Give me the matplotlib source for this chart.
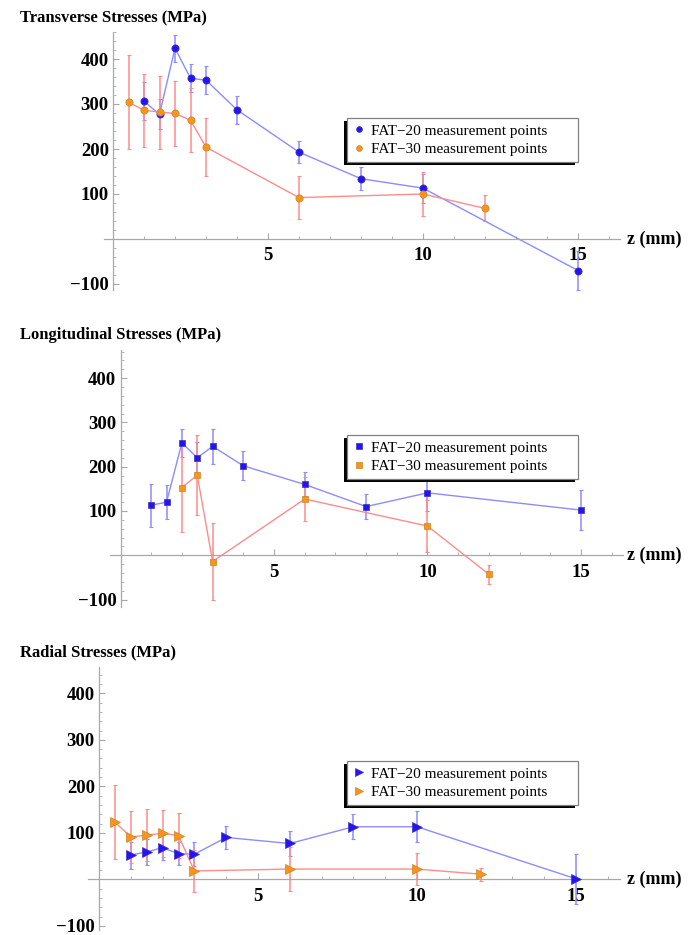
import matplotlib
matplotlib.use("Agg")
import matplotlib.pyplot as plt
from matplotlib.ticker import FixedLocator, MultipleLocator
from matplotlib.patches import Rectangle
import matplotlib.transforms as mtransforms

plt.rcParams['font.family'] = ['Liberation Serif', 'DejaVu Serif']

# ---------------- data ----------------
titles = ["Transverse Stresses (MPa)", "Longitudinal Stresses (MPa)", "Radial Stresses (MPa)"]
legend_labels = ["FAT\u221220 measurement points", "FAT\u221230 measurement points"]
x_label = "z (mm)"
x_ticks = [5, 10, 15]
y_ticks = [-100, 100, 200, 300, 400]

z20_t = [1, 1.5, 2, 2.5, 3, 4, 6, 8, 10, 15]
s20_t = [306, 277, 424, 357, 353, 287, 193, 134, 113, -70]
e20_t = [42, 33, 30, 31, 31, 31, 25, 26, 32, 43]
z30_t = [0.5, 1, 1.5, 2, 2.5, 3, 6, 10, 12]
s30_t = [304, 286, 282, 279, 264, 204, 92, 100, 68]
e30_t = [105, 81, 81, 72, 71, 65, 48, 48, 29]

z20_l = [1, 1.5, 2, 2.5, 3, 4, 6, 8, 10, 15]
s20_l = [113, 120, 254, 220, 246, 202, 160, 110, 141, 102]
e20_l = [48, 38, 32, 35, 40, 33, 27, 29, 40, 45]
z30_l = [2, 2.5, 3, 6, 10, 12]
s30_l = [153, 181, -14, 127, 66, -43]
e30_l = [100, 91, 86, 50, 58, 21]

z20_r = [1, 1.5, 2, 2.5, 3, 4, 6, 8, 10, 15]
s20_r = [52, 59, 68, 55, 54, 90, 77, 113, 113, 1]
e20_r = [29, 28, 27, 25, 26, 25, 27, 27, 33, 54]
z30_r = [0.5, 1, 1.5, 2, 2.5, 3, 6, 10, 12]
s30_r = [123, 91, 95, 99, 94, 18, 22, 22, 11]
e30_r = [80, 56, 56, 51, 48, 45, 48, 34, 14]

# ---------------- styling ----------------
W, H = 694, 935
DPI = 100
fig = plt.figure(figsize=(W / DPI, H / DPI), dpi=DPI)

blue_line = '#8c8cff'
red_line = '#ff8c8c'
blue_mk = '#2414f0'
orange_mk = '#f7941d'
axis_col = '#a8a8a8'

panels = [
    dict(x0=113, pxu=31.0, xlim=(-0.3, 16.35), y0=239.0, py=45.0, ylim=(-113, 460),
         title_y=18, leg_top=118, marker='o', ms=5.2,
         d=((z20_t, s20_t, e20_t), (z30_t, s30_t, e30_t)), title=titles[0]),
    dict(x0=120.5, pxu=30.7, xlim=(-0.33, 16.36), y0=555.3, py=44.3, ylim=(-117, 463),
         title_y=335, leg_top=435, marker='s', ms=5.0,
         d=((z20_l, s20_l, e20_l), (z30_l, s30_l, e30_l)), title=titles[1]),
    dict(x0=99.0, pxu=31.8, xlim=(-0.36, 16.37), y0=879.3, py=46.5, ylim=(-109, 457),
         title_y=652, leg_top=761, marker='>', ms=7.0,
         d=((z20_r, s20_r, e20_r), (z30_r, s30_r, e30_r)), title=titles[2]),
]

LEG_W, LEG_H = 231, 44
legends = []
for p in panels:
    left = p['x0'] + p['xlim'][0] * p['pxu']
    right = p['x0'] + p['xlim'][1] * p['pxu']
    top = p['y0'] - p['ylim'][1] * p['py'] / 100.0
    bottom = p['y0'] - p['ylim'][0] * p['py'] / 100.0
    ax = fig.add_axes([left / W, 1 - bottom / H, (right - left) / W, (bottom - top) / H])
    ax.set_xlim(*p['xlim'])
    ax.set_ylim(*p['ylim'])
    ax.patch.set_alpha(0)

    for s in ('top', 'right'):
        ax.spines[s].set_visible(False)
    ax.spines['left'].set_position(('data', 0))
    ax.spines['bottom'].set_position(('data', 0))
    for s in ('left', 'bottom'):
        ax.spines[s].set_color(axis_col)
        ax.spines[s].set_linewidth(0.9)

    ax.xaxis.set_major_locator(FixedLocator(x_ticks))
    ax.yaxis.set_major_locator(FixedLocator(y_ticks))
    ax.xaxis.set_minor_locator(MultipleLocator(1))
    ax.yaxis.set_minor_locator(MultipleLocator(20))
    ax.set_yticklabels(['\u2212100', '100', '200', '300', '400'])
    ax.set_xticklabels(['5', '10', '15'])
    ax.tick_params(which='major', direction='in', length=4, width=0.8, color=axis_col,
                   labelsize=13.5)
    ax.tick_params(which='minor', direction='in', length=2.2, width=0.6, color=axis_col)
    ax.tick_params(axis='x', which='major', pad=6)
    ax.tick_params(axis='y', which='major', pad=3)
    for lbl in ax.get_xticklabels() + ax.get_yticklabels():
        lbl.set_fontweight('bold')

    (za, sa, ea), (zb, sb, eb) = p['d']
    m = p['marker']
    ms = p['ms']
    ax.errorbar(za, sa, yerr=ea, color=blue_line, lw=1.0, elinewidth=1.1,
                capsize=1.6, capthick=0.8, zorder=2)
    ax.errorbar(zb, sb, yerr=eb, color=red_line, lw=1.0, elinewidth=1.1,
                capsize=1.6, capthick=0.8, zorder=2)
    h1, = ax.plot(za, sa, linestyle='none', marker=m, ms=ms, mfc=blue_mk,
                  mec='#3a30c0', mew=0.5, zorder=3, label=legend_labels[0])
    h2, = ax.plot(zb, sb, linestyle='none', marker=m, ms=ms, mfc=orange_mk,
                  mec='#c8861e', mew=0.5, zorder=4, label=legend_labels[1])

    trans = mtransforms.blended_transform_factory(fig.transFigure, ax.transData)
    ax.text(627 / W, 0, x_label, transform=trans, ha='left', va='center',
            fontsize=13, fontweight='bold', clip_on=False)

    fig.text(20 / W, 1 - p['title_y'] / H, p['title'], ha='left', va='center',
             fontsize=12, fontweight='bold')

    leg = ax.legend(handles=[h1, h2], loc='upper left', mode='expand',
                    bbox_to_anchor=(347 / W, 1 - (p['leg_top'] + LEG_H) / H,
                                    LEG_W / W, LEG_H / H),
                    bbox_transform=fig.transFigure, borderaxespad=0,
                    frameon=True, fancybox=False, shadow=False, framealpha=1,
                    fontsize=11, handlelength=0.8, handletextpad=0.4,
                    borderpad=0.4, labelspacing=0.3, markerscale=0.8)
    leg.get_frame().set_edgecolor('#808080')
    leg.get_frame().set_linewidth(0.9)
    leg.get_frame().set_facecolor('white')
    leg.set_zorder(10)
    legends.append((ax, leg))

fig.canvas.draw()
for ax, leg in legends:
    bb = leg.get_window_extent()
    sh = Rectangle((bb.x0 - 3, bb.y0 - 3), bb.width, bb.height,
                   transform=mtransforms.IdentityTransform(),
                   facecolor='black', edgecolor='none', zorder=9, clip_on=False)
    ax.add_artist(sh)

fig.savefig('out.png', dpi=DPI)
